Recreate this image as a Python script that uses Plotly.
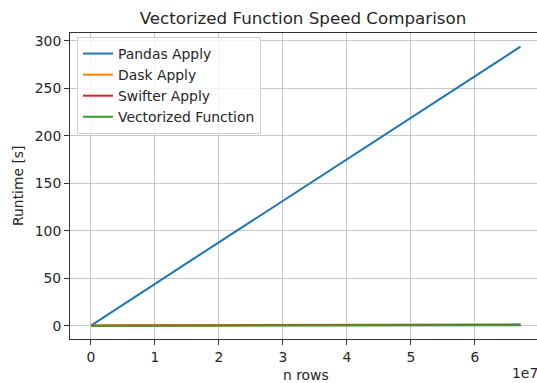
import plotly.graph_objects as go

n_rows = [1024, 4096, 16384, 65536, 262144, 1048576, 4194304, 16777216, 67108864]
pandas_apply = [0.005, 0.02, 0.07, 0.29, 1.15, 4.6, 18.5, 73.8, 294.0]
dask_apply = [0.02, 0.02, 0.03, 0.03, 0.05, 0.08, 0.2, 0.55, 1.6]
swifter_apply = [0.01, 0.01, 0.02, 0.02, 0.03, 0.05, 0.1, 0.3, 0.9]
vectorized = [0.001, 0.001, 0.002, 0.003, 0.005, 0.01, 0.03, 0.1, 0.4]

series = [
    ("Pandas Apply", pandas_apply, "#1f77b4"),
    ("Dask Apply", dask_apply, "#ff7f0e"),
    ("Swifter Apply", swifter_apply, "#d62728"),
    ("Vectorized Function", vectorized, "#2ca02c"),
]

x_tickvals = [0, 1e7, 2e7, 3e7, 4e7, 5e7, 6e7]
x_ticktext = ["0", "1", "2", "3", "4", "5", "6"]
y_tickvals = [0, 50, 100, 150, 200, 250, 300]

fig = go.Figure()
for name, vals, col in series:
    fig.add_trace(go.Scatter(x=n_rows, y=vals, mode="lines", name=name,
                             line=dict(color=col, width=2)))

font = "DejaVu Sans"
txt = "#262626"
W, H = 537, 383
PL, PR, PT, PB = 70, 537, 33, 339
pw, ph = PR - PL, PB - PT
fig.update_layout(
    width=W, height=H,
    margin=dict(l=PL, r=W - PR, t=PT, b=H - PB),
    paper_bgcolor="white", plot_bgcolor="white",
    font=dict(family=font, size=13.9, color=txt),
    title=dict(text="Vectorized Function Speed Comparison", x=303/W, xanchor="center",
               y=1 - 18/H, yanchor="middle", font=dict(size=16.7, color=txt)),
    showlegend=True,
    legend=dict(x=(77 - PL)/pw, y=1 - (37 - PT)/ph, xanchor="left", yanchor="top",
                bgcolor="rgba(255,255,255,0.8)", bordercolor="#d0d0d0", borderwidth=1,
                font=dict(size=13.9), tracegroupgap=0, itemwidth=30),
)
fig.update_xaxes(
    range=[-0.328e7, 6.969e7], tickvals=x_tickvals, ticktext=x_ticktext,
    showgrid=True, gridcolor="#c8c8c8", gridwidth=1, zeroline=False,
    showline=True, linecolor="#333333", linewidth=1, mirror=True,
    ticks="outside", ticklen=5, tickcolor="#333333", automargin=False,
    tickfont=dict(size=13.9, color=txt),
)
fig.update_yaxes(
    range=[-14.0, 308.4], tickvals=y_tickvals,
    showgrid=True, gridcolor="#c8c8c8", gridwidth=1, zeroline=False,
    showline=True, linecolor="#333333", linewidth=1, mirror=False,
    ticks="outside", ticklen=5, tickcolor="#333333", automargin=False,
    tickfont=dict(size=13.9, color=txt),
)
fig.add_annotation(text="n rows", xref="paper", yref="paper", x=(306 - PL)/pw,
                   y=-(375 - PB)/ph, xanchor="center", yanchor="middle",
                   showarrow=False, font=dict(size=13.9, color=txt))
fig.add_annotation(text="Runtime [s]", xref="paper", yref="paper", x=-(PL - 18)/pw,
                   y=(PB - 186)/ph, xanchor="center", yanchor="middle", textangle=-90,
                   showarrow=False, font=dict(size=13.9, color=txt))
fig.add_annotation(text="1e7", xref="paper", yref="paper", x=1.0, xshift=3,
                   y=-(373 - PB)/ph, xanchor="right", yanchor="middle",
                   showarrow=False, font=dict(size=13.9, color=txt))
fig.write_html("out.html", config={"displayModeBar": False},
               post_script="document.body.style.margin='0';")
